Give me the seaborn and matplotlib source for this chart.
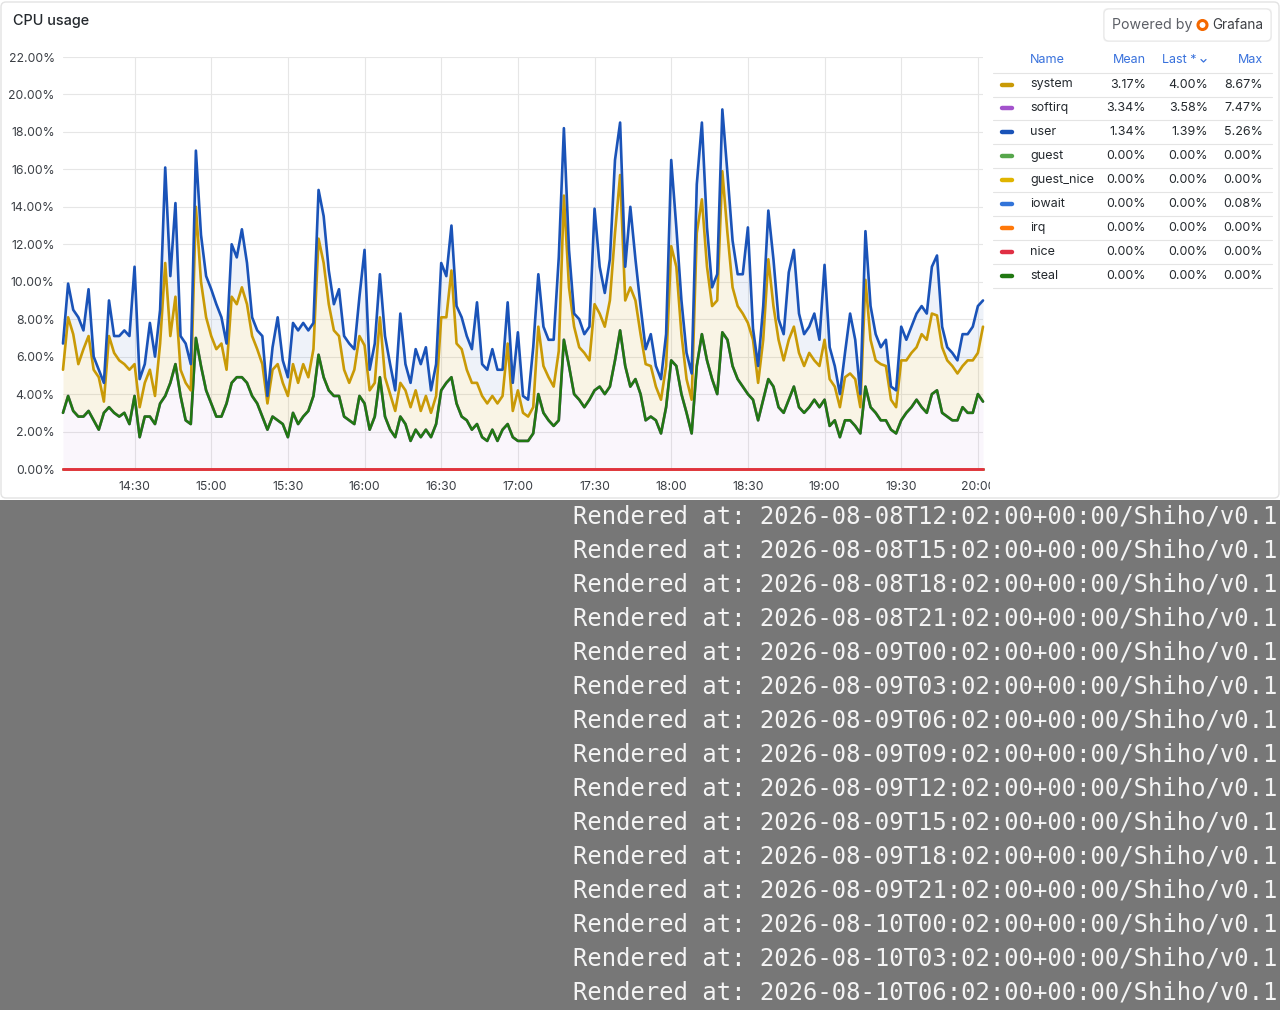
import numpy as np
import pandas as pd
import matplotlib
matplotlib.use("Agg")
import matplotlib.pyplot as plt
import seaborn as sns
from matplotlib.patches import FancyBboxPatch, Rectangle, Circle
from matplotlib.lines import Line2D
from matplotlib.transforms import Bbox, TransformedBbox

W, H = 1280, 1010

# sample times: minutes after 14:00, every 2 min from 14:02 to 20:02
minutes = np.arange(2, 363, 2)

# values (percent), one row = 30 minutes
softirq = [
    3.0, 3.9, 3.1, 2.8, 2.8, 3.1, 2.6, 2.1, 3.0, 3.3, 3.0, 2.8, 3.0, 2.4, 3.9,
    1.7, 2.8, 2.8, 2.4, 3.5, 3.9, 4.6, 5.6, 3.9, 2.6, 2.4, 7.0, 5.5, 4.2, 3.5,
    2.8, 2.8, 3.5, 4.6, 4.9, 4.9, 4.6, 3.9, 3.5, 2.8, 2.1, 2.8, 2.6, 2.4, 1.7,
    3.0, 2.4, 2.8, 3.1, 3.9, 6.1, 4.9, 4.2, 3.9, 3.9, 2.8, 2.6, 2.4, 3.9, 3.5,
    2.1, 2.8, 4.9, 2.8, 2.1, 1.7, 2.8, 2.4, 1.5, 2.1, 1.7, 2.1, 1.7, 2.4, 4.2,
    4.6, 4.9, 3.5, 2.8, 2.6, 2.1, 2.4, 1.7, 1.5, 2.1, 1.5, 2.1, 2.4, 1.7, 1.5,
    1.5, 1.5, 1.9, 4.0, 3.0, 2.6, 2.3, 2.6, 6.9, 5.5, 4.0, 3.7, 3.3, 3.7, 4.2,
    4.4, 4.0, 4.4, 5.8, 7.4, 5.5, 4.4, 4.8, 4.0, 2.6, 2.8, 2.6, 1.9, 3.3, 5.8,
    5.5, 4.0, 3.0, 1.9, 5.5, 7.2, 5.8, 4.8, 4.0, 7.3, 6.9, 5.5, 4.8, 4.4, 4.0,
    3.7, 2.6, 3.7, 4.8, 4.4, 3.3, 3.0, 3.7, 4.4, 3.3, 3.0, 3.3, 3.7, 3.3, 3.7,
    2.3, 2.6, 1.7, 2.6, 2.6, 2.3, 1.9, 4.4, 3.3, 3.0, 2.6, 2.6, 2.1, 1.9, 2.6,
    3.0, 3.3, 3.7, 3.3, 3.0, 4.0, 4.2, 3.0, 2.8, 2.6, 2.6, 3.3, 3.0, 3.0, 4.0,
    3.6,
]
system = [
    2.3, 4.2, 4.1, 2.8, 3.6, 4.0, 2.7, 2.8, 0.6, 3.8, 3.2, 3.0, 2.6, 2.9, 1.7,
    1.6, 1.8, 2.5, 1.5, 3.2, 7.1, 2.5, 3.6, 1.4, 2.0, 1.8, 7.0, 4.5, 3.9, 3.6,
    3.6, 3.9, 1.8, 4.6, 3.9, 4.8, 4.2, 3.2, 2.9, 2.8, 1.4, 2.5, 3.0, 2.2, 2.2,
    2.6, 2.2, 2.8, 1.8, 2.5, 6.2, 6.1, 4.6, 3.5, 3.2, 2.5, 2.0, 2.9, 3.2, 3.1,
    2.1, 1.8, 3.2, 2.1, 1.9, 1.4, 1.8, 1.8, 1.8, 2.1, 1.4, 1.8, 1.3, 1.5, 3.9,
    3.5, 5.7, 3.2, 3.6, 2.7, 2.5, 2.2, 2.2, 2.0, 1.8, 2.0, 1.8, 4.3, 1.4, 2.7,
    1.5, 1.3, 1.4, 3.6, 2.5, 2.3, 2.1, 3.7, 7.7, 4.2, 3.6, 2.8, 2.9, 2.1, 4.6,
    3.9, 3.6, 4.6, 6.8, 8.3, 3.5, 5.3, 4.2, 3.2, 3.0, 2.7, 1.8, 1.8, 2.2, 6.1,
    5.3, 3.2, 1.8, 1.8, 7.1, 7.2, 5.0, 3.9, 5.0, 8.6, 5.7, 4.2, 3.9, 3.9, 3.8,
    3.2, 2.0, 3.2, 6.4, 4.3, 3.6, 2.8, 3.2, 3.2, 2.9, 2.5, 2.9, 2.1, 2.2, 3.2,
    2.5, 1.8, 1.6, 2.3, 2.5, 2.5, 1.4, 5.7, 3.6, 2.8, 3.0, 2.9, 1.6, 1.4, 3.2,
    2.8, 2.9, 2.8, 3.9, 3.9, 4.3, 4.0, 3.5, 3.0, 2.9, 2.5, 2.2, 2.8, 2.8, 2.2,
    4.0,
]
user = [
    1.4, 1.8, 1.3, 2.5, 1.0, 2.5, 0.7, 0.4, 1.0, 1.9, 0.9, 1.3, 1.8, 1.8, 5.2,
    1.5, 1.0, 2.5, 2.1, 1.8, 5.1, 3.2, 5.0, 1.8, 2.1, 1.4, 3.0, 2.5, 2.2, 2.5,
    2.4, 1.4, 1.4, 2.8, 2.5, 3.1, 2.2, 1.0, 1.0, 1.5, 0.4, 1.2, 2.5, 1.2, 1.0,
    2.2, 2.8, 2.2, 2.5, 1.4, 2.6, 2.5, 1.8, 1.4, 2.5, 1.8, 2.1, 1.1, 2.1, 5.1,
    1.1, 2.1, 2.3, 2.2, 1.6, 1.1, 3.7, 1.4, 1.3, 2.2, 2.5, 2.6, 1.2, 1.7, 2.9,
    2.2, 2.4, 2.0, 1.7, 1.8, 1.8, 4.3, 1.7, 1.8, 2.5, 1.8, 1.4, 2.2, 1.5, 3.1,
    0.9, 0.9, 3.2, 2.8, 2.1, 2.0, 2.5, 5.0, 3.6, 2.0, 0.7, 1.5, 1.0, 1.8, 5.1,
    2.5, 1.8, 2.2, 3.9, 2.8, 1.8, 4.3, 2.2, 1.5, 0.8, 1.7, 1.1, 1.1, 1.7, 4.6,
    2.1, 1.8, 1.4, 1.4, 2.6, 4.1, 2.1, 1.0, 1.4, 3.3, 3.2, 2.5, 1.7, 2.1, 5.1,
    0.6, 0.9, 1.8, 2.6, 2.5, 1.1, 1.4, 3.6, 4.1, 2.1, 1.7, 1.4, 2.5, 1.4, 4.0,
    1.7, 1.1, 0.7, 1.3, 3.2, 2.1, 0.7, 2.6, 1.8, 1.4, 0.9, 1.4, 0.7, 0.9, 1.8,
    1.1, 1.4, 1.8, 1.5, 1.4, 2.5, 3.2, 1.1, 0.7, 0.7, 0.7, 1.7, 1.4, 1.8, 2.5,
    1.4,
]
# the remaining series are flat at 0.00% in the panel
zero_series = ["guest", "guest_nice", "iowait", "irq", "nice", "steal"]

stack_order = ["guest", "guest_nice", "iowait", "irq", "nice",
               "softirq", "steal", "system", "user"]

colors = {
    "system": "#C99A06", "softirq": "#A352CC", "user": "#1A53B8",
    "guest": "#56A64B", "guest_nice": "#E0B400", "iowait": "#3274D9",
    "irq": "#FF780A", "nice": "#E02F44", "steal": "#217812",
}

# legend table
legend_names = ["system", "softirq", "user", "guest", "guest_nice",
                "iowait", "irq", "nice", "steal"]
legend_mean = ["3.17%", "3.34%", "1.34%", "0.00%", "0.00%", "0.00%", "0.00%", "0.00%", "0.00%"]
legend_last = ["4.00%", "3.58%", "1.39%", "0.00%", "0.00%", "0.00%", "0.00%", "0.00%", "0.00%"]
legend_max = ["8.67%", "7.47%", "5.26%", "0.00%", "0.00%", "0.08%", "0.00%", "0.00%", "0.00%"]

tick_minutes = [30, 60, 90, 120, 150, 180, 210, 240, 270, 300, 330, 360]
tick_labels = ["14:30", "15:00", "15:30", "16:00", "16:30", "17:00",
               "17:30", "18:00", "18:30", "19:00", "19:30", "20:00"]
y_ticks = [0, 2, 4, 6, 8, 10, 12, 14, 16, 18, 20, 22]

render_stamps = [
    "2026-08-08T12:02:00+00:00", "2026-08-08T15:02:00+00:00",
    "2026-08-08T18:02:00+00:00", "2026-08-08T21:02:00+00:00",
    "2026-08-09T00:02:00+00:00", "2026-08-09T03:02:00+00:00",
    "2026-08-09T06:02:00+00:00", "2026-08-09T09:02:00+00:00",
    "2026-08-09T12:02:00+00:00", "2026-08-09T15:02:00+00:00",
    "2026-08-09T18:02:00+00:00", "2026-08-09T21:02:00+00:00",
    "2026-08-10T00:02:00+00:00", "2026-08-10T03:02:00+00:00",
    "2026-08-10T06:02:00+00:00",
]

sns.set_theme(style="white")
plt.rcParams["font.family"] = ["Inter", "DejaVu Sans"]

values = {"softirq": softirq, "system": system, "user": user}
for name in zero_series:
    values[name] = [0.0] * len(minutes)

# stack the series in query order
levels = {}
bottoms = {}
cum = np.zeros(len(minutes))
for name in stack_order:
    bottoms[name] = cum.copy()
    cum = cum + np.asarray(values[name])
    levels[name] = cum.copy()

long_df = pd.concat(
    [pd.DataFrame({"minute": minutes, "level": levels[n], "series": n}) for n in stack_order],
    ignore_index=True)


def fx(x):
    return x / W


def fy(y):
    return 1 - y / H


fig = plt.figure(figsize=(W / 100, H / 100), dpi=100)
fig.patch.set_facecolor("white")

# panel frame and grey footer (behind the axes)
fig.patches.append(FancyBboxPatch((0.01, (H - 498) / 100), 12.78, 4.96,
                                  boxstyle="round,pad=0,rounding_size=0.05",
                                  transform=fig.dpi_scale_trans, facecolor="white",
                                  edgecolor="#e3e3e3", lw=1, zorder=-2))
fig.patches.append(Rectangle((0, 0), 1, 510 / H, transform=fig.transFigure,
                             facecolor="#777777", edgecolor="none", zorder=-2))

ax = fig.add_axes([fx(63), fy(469), fx(920), 412 / H])
ax.set_facecolor("none")

fills = {"softirq": ("#A352CC", 0.05), "system": ("#C99A06", 0.10), "user": ("#1A53B8", 0.07)}
for name, (c, a) in fills.items():
    ax.fill_between(minutes, bottoms[name], levels[name], color=c, alpha=a, lw=0, zorder=1)

sns.lineplot(data=long_df, x="minute", y="level", hue="series", hue_order=stack_order,
             palette=colors, estimator=None, linewidth=1.9, legend=False, ax=ax, zorder=3)
for ln in ax.lines:
    ln.set_clip_on(False)

ax.set_xlim(2, 362)
ax.set_ylim(0, 22)
ax.set_xticks(tick_minutes)
ax.set_xticklabels(tick_labels)
ax.set_yticks(y_ticks)
ax.set_yticklabels([f"{v:.2f}%" for v in y_ticks])
ax.grid(True, color="#e6e6e6", lw=0.8, zorder=0)
ax.set_axisbelow(True)
for s in ax.spines.values():
    s.set_visible(False)
ax.tick_params(length=0, labelsize=8.8, colors="#3b3f45")
ax.tick_params(axis="x", pad=9)
ax.tick_params(axis="y", pad=6)
ax.set_xlabel("")
ax.set_ylabel("")
# last x label is cut by the legend
clip = TransformedBbox(Bbox([[0, 0], [fx(990), 1]]), fig.transFigure)
for lbl in ax.get_xticklabels():
    lbl.set_clip_on(True)
    lbl.set_clip_box(clip)

fig.text(fx(13), fy(21), "CPU usage", fontsize=10.4, fontweight="medium",
         color="#24292e", va="center", ha="left")

# Powered by Grafana badge
fig.patches.append(FancyBboxPatch((11.03, (H - 42) / 100), 1.69, 0.34,
                                  boxstyle="round,pad=0,rounding_size=0.05",
                                  transform=fig.dpi_scale_trans, facecolor="#000000",
                                  alpha=0.05, edgecolor="none", zorder=2))
fig.patches.append(FancyBboxPatch((11.04, (H - 41) / 100), 1.67, 0.32,
                                  boxstyle="round,pad=0,rounding_size=0.05",
                                  transform=fig.dpi_scale_trans, facecolor="white",
                                  edgecolor="#e8e8e8", lw=0.8, zorder=3))
fig.text(fx(1112), fy(25), "Powered by", fontsize=10.2, color="#5c5f66",
         va="center", ha="left", zorder=4)
fig.patches.append(Circle((12.025, (H - 25) / 100), 0.045, transform=fig.dpi_scale_trans,
                          facecolor="none", edgecolor="#F46800", lw=2.2, zorder=4))
fig.text(fx(1212), fy(25), "Grafana", fontsize=9.8, color="#3d3f44",
         va="center", ha="left", zorder=4)

# legend table
head_c = "#3871dc"
fig.text(fx(1030), fy(60), "Name", fontsize=9, color=head_c, va="center", ha="left")
fig.text(fx(1146), fy(60), "Mean", fontsize=9, color=head_c, va="center", ha="right")
fig.text(fx(1197), fy(60), "Last *", fontsize=9, color=head_c, va="center", ha="right")
fig.lines.append(Line2D([fx(1201), fx(1203.5), fx(1206)], [fy(59.5), fy(62), fy(59.5)],
                        transform=fig.transFigure, color=head_c, lw=0.9))
fig.text(fx(1263), fy(60), "Max", fontsize=9, color=head_c, va="center", ha="right")

row_y0, row_h = 84.5, 23.9
fig.lines.append(Line2D([fx(993), fx(1272)], [fy(row_y0 - 12), fy(row_y0 - 12)],
                        transform=fig.transFigure, color="#e4e4e4", lw=0.8))
for i, name in enumerate(legend_names):
    y = row_y0 + i * row_h
    fig.lines.append(Line2D([fx(1002), fx(1012)], [fy(y), fy(y)], transform=fig.transFigure,
                            color=colors[name], lw=3.2, solid_capstyle="round"))
    fig.text(fx(1030), fy(y), name, fontsize=9, color="#24292e", va="center", ha="left")
    fig.text(fx(1146), fy(y), legend_mean[i], fontsize=9, color="#24292e", va="center", ha="right")
    fig.text(fx(1208), fy(y), legend_last[i], fontsize=9, color="#24292e", va="center", ha="right")
    fig.text(fx(1263), fy(y), legend_max[i], fontsize=9, color="#24292e", va="center", ha="right")
    fig.lines.append(Line2D([fx(993), fx(1272)], [fy(y + 12), fy(y + 12)],
                            transform=fig.transFigure, color="#e4e4e4", lw=0.8))

# footer stamps
for i, stamp in enumerate(render_stamps):
    fig.text(fx(573), fy(517 + i * 34), f"Rendered at: {stamp}/Shiho/v0.1",
             family="DejaVu Sans Mono", fontsize=17.2, color="#f4f4f4",
             va="center", ha="left")

fig.savefig("out.png", dpi=100)
